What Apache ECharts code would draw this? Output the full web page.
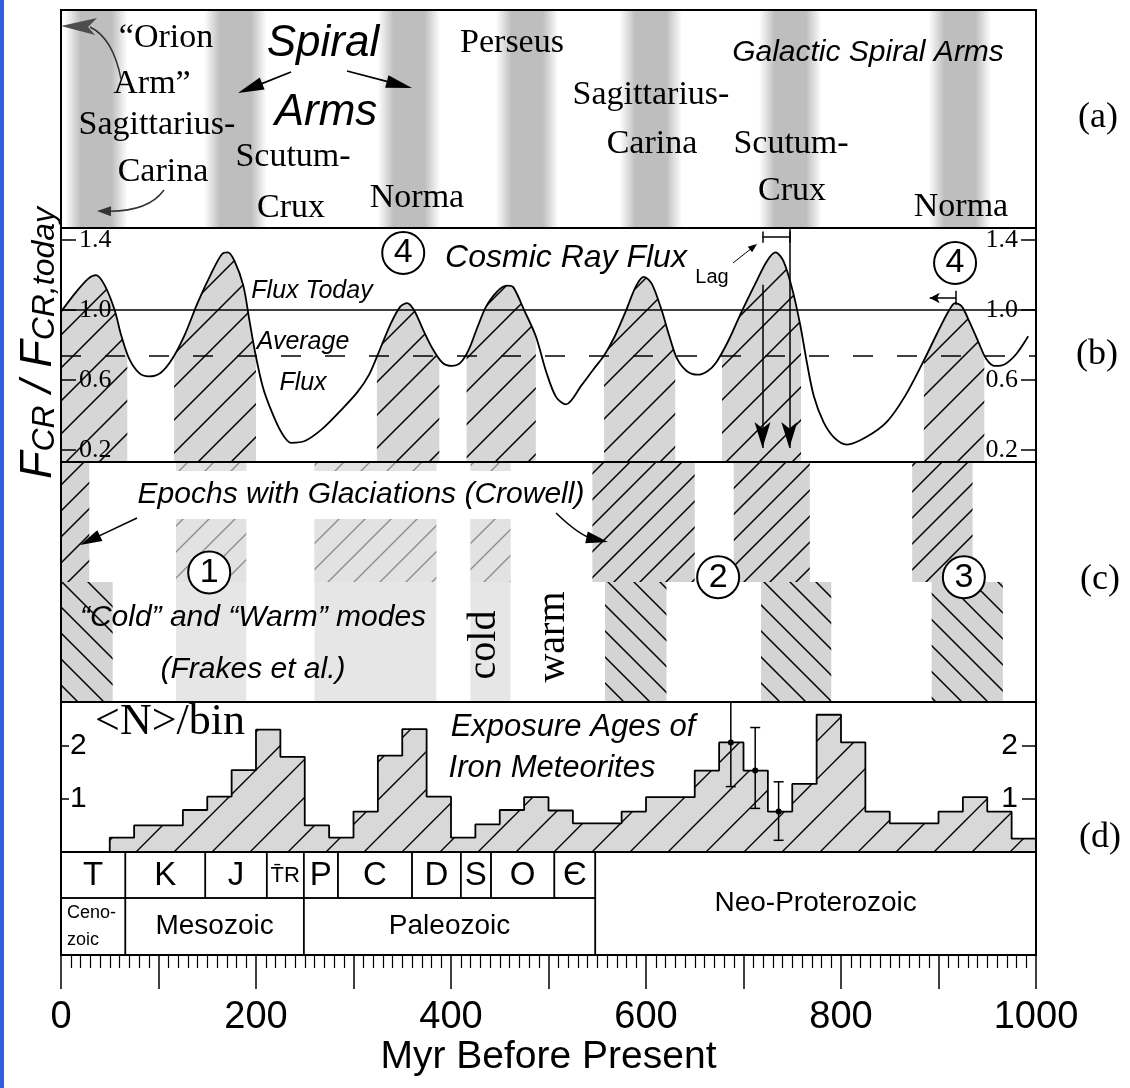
<!DOCTYPE html>
<html>
<head>
<meta charset="utf-8">
<script src="https://cdn.jsdelivr.net/npm/echarts@6/dist/echarts.min.js"></script>
<style>html,body{margin:0;padding:0;background:#fff;}#chart{width:1130px;height:1088px;}</style>
</head>
<body>
<div id="chart"></div>
<script>
// ===================== DATA =====================
// (a) spiral arm crossings (Myr before present)
const spiralArmCenters = [36, 179, 357, 478, 605, 748, 922];
const spiralArmWidth = 64;

// (b) cosmic ray flux relative to today
const fluxAge = [0,15,28,36,45,55,62,70,80,90,102,114,127,140,155,165,171,178,187,193,199,207,216,226,236,250,268,286,304,316,326,338,348,355,362,372,381,391,401,410,418,427,436,448,458,464,475,487,498,508,518,534,546,557,568,579,590,598,606,616,624,632,642,653,663,672,685,698,712,724,733,741,750,758,765,772,782,793,806,825,847,866,884,898,910,917,924,932,940,949,958,968,980,992];
const fluxValue = [0.99,1.10,1.18,1.20,1.14,1.00,0.85,0.72,0.64,0.62,0.64,0.72,0.86,1.04,1.22,1.32,1.33,1.28,1.14,0.95,0.76,0.56,0.42,0.30,0.24,0.25,0.32,0.42,0.53,0.63,0.76,0.92,1.02,1.04,1.00,0.88,0.78,0.70,0.68,0.70,0.77,0.90,1.02,1.11,1.14,1.13,1.00,0.85,0.64,0.50,0.46,0.57,0.66,0.74,0.85,0.99,1.14,1.19,1.15,1.00,0.85,0.72,0.65,0.63,0.65,0.70,0.83,0.99,1.15,1.28,1.33,1.28,1.12,0.92,0.70,0.51,0.36,0.27,0.23,0.27,0.36,0.51,0.70,0.86,0.99,1.04,1.02,0.93,0.83,0.72,0.68,0.69,0.75,0.85];
const fluxToday = 1.0;
const fluxAverage = 0.74;
const fluxTicks = [0.2, 0.6, 1.0, 1.4];
const highFluxRanges = [[0,68],[116,200],[324,388],[416,487],[557,630],[678,759],[885,947]];
const lagStart = 719.5, lagEnd = 747;

// (c) glaciation epochs (Crowell) and cold modes (Frakes et al.)
const glaciationEpochs = [[0,29],[545,650],[690,768],[873,935]];
const glaciationEpochsFaint = [[118,190],[260,385],[420,461]];
const coldModes = [[0,53],[558,621],[718,790],[893,966]];

// (d) iron meteorite exposure ages histogram
const histBinStart = [0,25,50,75,100,125,150,175,200,225,250,275,300,325,350,375,400,425,450,475,500,525,550,575,600,625,650,675,700,725,750,775,800,825,850,875,900,925,950,975];
const histValue = [0,0,0.27,0.50,0.50,0.79,1.04,1.54,2.30,1.79,0.50,0.27,0.76,1.81,2.31,1.04,0.27,0.52,0.79,1.03,0.78,0.54,0.54,0.76,1.03,1.03,1.53,2.06,1.53,0.76,1.28,2.58,2.06,0.76,0.54,0.54,0.76,1.03,0.76,0.25];
const histEnd = 1000;
const countTicks = [1, 2];
const errAge = [687, 712, 736];
const errMid = [2.06, 1.53, 0.76];
const errLow = [1.23, 0.82, 0.22];
const errHigh = [2.82, 2.34, 1.32];

// geological time scale
const periodNames = ['T','K','J','T\u0304R','P','C','D','S','O','\u0404'];
const periodStart = [0,66,148,211,249,284,360,410,441,506];
const periodEnd   = [66,148,211,249,284,360,410,441,506,548];
const eraNames = ['Ceno-\nzoic','Mesozoic','Paleozoic','Neo-Proterozoic'];
const eraStart = [0,66,249,548];
const eraEnd   = [66,249,548,1000];
const xLabelValues = [0,200,400,600,800,1000];

// ===================== LAYOUT / STYLE =====================
const SANS = '"Liberation Sans", Arial, sans-serif';
const NARROW = SANS;
const SERIF = '"Liberation Serif", "Times New Roman", serif';
const bMin = 0.13, bMax = 1.47;
const dMax = 2.82;
const eraSplit = 57 / 103;

function hatch(size, dir, bg, lineColor, lw) {
  const c = document.createElement('canvas');
  c.width = size; c.height = size;
  const ctx = c.getContext('2d');
  ctx.fillStyle = bg; ctx.fillRect(0, 0, size, size);
  ctx.strokeStyle = lineColor; ctx.lineWidth = lw;
  ctx.beginPath();
  if (dir === '/') {
    ctx.moveTo(-size/2, size/2); ctx.lineTo(size/2, -size/2);
    ctx.moveTo(0, size); ctx.lineTo(size, 0);
    ctx.moveTo(size/2, size*1.5); ctx.lineTo(size*1.5, size/2);
  } else {
    ctx.moveTo(0, 0); ctx.lineTo(size, size);
    ctx.moveTo(-size/2, size/2); ctx.lineTo(size/2, size*1.5);
    ctx.moveTo(size/2, -size/2); ctx.lineTo(size*1.5, size/2);
  }
  ctx.stroke();
  return { image: c, repeat: 'repeat' };
}
const patB = hatch(33, '/', '#d6d6d6', '#000', 1.5);
const patC = hatch(26, '/', '#d4d4d4', '#000', 1.5);
const patCfaint = hatch(26, '/', '#e2e2e2', '#8a8a8a', 1.3);
const patCback = hatch(26, '\\', '#d4d4d4', '#000', 1.5);
const patD = hatch(38, '/', '#d8d8d8', '#000', 1.4);

const fluxData = fluxAge.map((a, i) => [a, fluxValue[i]]);
const fluxGaps = [];
(function(){ let prev = 0; highFluxRanges.forEach(r => { if (r[0] > prev) fluxGaps.push([prev, r[0]]); prev = r[1]; }); if (prev < 1000) fluxGaps.push([prev, 1000]); })();
const histData = histBinStart.map((s, i) => [s, histValue[i]]).concat([[histEnd, histValue[histValue.length - 1]]]);
const errData = errAge.map((a, i) => [a, errMid[i], errLow[i], errHigh[i]]);
const periodData = periodStart.map((s, i) => [s, periodEnd[i]]);
const eraData = eraStart.map((s, i) => [s, eraEnd[i]]);

function rangeRender(y0, y1, fill) {
  return function(params, api) {
    const p0 = api.coord([api.value(0), y1]);
    const p1 = api.coord([api.value(1), y0]);
    return { type: 'rect', shape: { x: p0[0], y: p0[1], width: p1[0] - p0[0], height: p1[1] - p0[1] }, style: { fill: fill } };
  };
}
function bandRender(params, api) {
  const c = api.value(0);
  const p0 = api.coord([c - spiralArmWidth / 2, 1]);
  const p1 = api.coord([c + spiralArmWidth / 2, 0]);
  return { type: 'rect', shape: { x: p0[0], y: p0[1], width: p1[0] - p0[0], height: p1[1] - p0[1] },
    style: { fill: { type: 'linear', x: 0, y: 0, x2: 1, y2: 0, colorStops: [
      { offset: 0, color: 'rgba(165,165,165,0)' }, { offset: 0.25, color: 'rgba(165,165,165,0.72)' },
      { offset: 0.75, color: 'rgba(165,165,165,0.72)' }, { offset: 1, color: 'rgba(165,165,165,0)' } ] } } };
}
function errRender(params, api) {
  const x = api.value(0), mid = api.value(1), lo = api.value(2), hi = api.value(3);
  const top = Math.min(hi, dMax);
  const pm = api.coord([x, mid]), pl = api.coord([x, lo]), ph = api.coord([x, top]);
  const st = { stroke: '#000', lineWidth: 1.5 };
  const ch = [
    { type: 'line', shape: { x1: pl[0], y1: pl[1], x2: ph[0], y2: ph[1] }, style: st },
    { type: 'line', shape: { x1: pl[0] - 5, y1: pl[1], x2: pl[0] + 5, y2: pl[1] }, style: st },
    { type: 'circle', shape: { cx: pm[0], cy: pm[1], r: 3 }, style: { fill: '#000' } }
  ];
  if (hi < dMax) ch.push({ type: 'line', shape: { x1: ph[0] - 5, y1: ph[1], x2: ph[0] + 5, y2: ph[1] }, style: st });
  return { type: 'group', children: ch };
}
function periodRender(params, api) {
  const i = params.dataIndex;
  const p0 = api.coord([api.value(0), 1]);
  const p1 = api.coord([api.value(1), eraSplit]);
  const name = periodNames[i];
  return { type: 'group', children: [
    { type: 'rect', shape: { x: p0[0], y: p0[1], width: p1[0] - p0[0], height: p1[1] - p0[1] }, style: { fill: 'rgba(0,0,0,0)', stroke: '#000', lineWidth: 1.5 } },
    { type: 'text', x: (p0[0] + p1[0]) / 2, y: (p0[1] + p1[1]) / 2 + 1, style: { text: name, fontFamily: NARROW, fontSize: name.length > 1 ? 22 : 33, fill: '#000', align: 'center', verticalAlign: 'middle' } }
  ] };
}
function eraRender(params, api) {
  const i = params.dataIndex;
  const s = api.value(0), e = api.value(1);
  const top = s >= periodEnd[periodEnd.length - 1] ? 1 : eraSplit;
  const p0 = api.coord([s, top]);
  const p1 = api.coord([e, 0]);
  const name = eraNames[i];
  const multi = name.indexOf('\n') >= 0;
  return { type: 'group', children: [
    { type: 'rect', shape: { x: p0[0], y: p0[1], width: p1[0] - p0[0], height: p1[1] - p0[1] }, style: { fill: 'rgba(0,0,0,0)', stroke: '#000', lineWidth: 1.5 } },
    { type: 'text', x: multi ? p0[0] + 6 : (p0[0] + p1[0]) / 2, y: (p0[1] + p1[1]) / 2, style: { text: name, fontFamily: NARROW, fontSize: multi ? 18 : 28, lineHeight: multi ? 27 : 34, fill: '#000', align: multi ? 'left' : 'center', verticalAlign: 'middle' } }
  ] };
}

// annotation helpers (pixel space)
function arrowHead(x, y, ang, len, wid, color) {
  const bx = x - len * Math.cos(ang), by = y - len * Math.sin(ang);
  const nx = -Math.sin(ang) * wid / 2, ny = Math.cos(ang) * wid / 2;
  return { type: 'polygon', z: 100, silent: true, shape: { points: [[x, y], [bx + nx, by + ny], [bx - nx, by - ny]] }, style: { fill: color } };
}
function straightArrow(x1, y1, x2, y2, len, wid, color, lw) {
  const a = Math.atan2(y2 - y1, x2 - x1);
  return [{ type: 'line', z: 100, silent: true, shape: { x1: x1, y1: y1, x2: x2 - Math.cos(a) * len * 0.7, y2: y2 - Math.sin(a) * len * 0.7 }, style: { stroke: color, lineWidth: lw } }, arrowHead(x2, y2, a, len, wid, color)];
}
function curveArrow(x1, y1, cx, cy, x2, y2, len, wid, color, lw) {
  const a = Math.atan2(y2 - cy, x2 - cx);
  return [{ type: 'bezierCurve', z: 100, silent: true, shape: { x1: x1, y1: y1, x2: x2 - Math.cos(a) * len * 0.7, y2: y2 - Math.sin(a) * len * 0.7, cpx1: cx, cpy1: cy }, style: { stroke: color, lineWidth: lw, fill: null } }, arrowHead(x2, y2, a, len, wid, color)];
}
function txt(text, x, y, family, size, extra, el) {
  return Object.assign({ type: 'text', x: x, y: y, z: 100, silent: true,
    style: Object.assign({ text: text, fontFamily: family, fontSize: size, fill: '#000', align: 'center', verticalAlign: 'middle' }, extra || {}) }, el || {});
}
const IT = { fontStyle: 'italic' };

const graphics = [
  { type: 'rect', z: 100, silent: true, shape: { x: 0, y: 0, width: 4, height: 1088 }, style: { fill: '#2f5fe0' } },
  // panel a
  txt('\u201COrion', 166, 38, SERIF, 34), txt('Arm\u201D', 152, 84, SERIF, 34),
  txt('Sagittarius-', 157, 125, SERIF, 34), txt('Carina', 163, 172, SERIF, 34),
  txt('Scutum-', 293, 157, SERIF, 34), txt('Crux', 291, 208, SERIF, 34),
  txt('Norma', 417, 198, SERIF, 34), txt('Perseus', 512, 43, SERIF, 34),
  txt('Sagittarius-', 651, 95, SERIF, 34), txt('Carina', 652, 144, SERIF, 34),
  txt('Scutum-', 791, 144, SERIF, 34), txt('Crux', 792, 191, SERIF, 34),
  txt('Norma', 961, 207, SERIF, 34),
  txt('Spiral', 323, 44, NARROW, 44, IT), txt('Arms', 326, 113, NARROW, 44, IT),
  txt('Galactic Spiral Arms', 868, 53, NARROW, 30, IT),
  txt('(a)', 1098, 118, SERIF, 36), txt('(b)', 1097, 355, SERIF, 36),
  txt('(c)', 1100, 580, SERIF, 36), txt('(d)', 1100, 838, SERIF, 36),
  { type: 'polygon', z: 100, silent: true, shape: { points: [[61, 26], [97, 18], [88, 27], [95, 35]] }, style: { fill: '#4d4d4d' } },
  { type: 'bezierCurve', z: 100, silent: true, shape: { x1: 90, y1: 27, cpx1: 113, cpy1: 38, x2: 121, y2: 79 }, style: { stroke: '#333', lineWidth: 1.5, fill: null } },
  ...curveArrow(164, 190, 148, 212, 97, 211, 14, 10, '#333', 1.5),
  ...straightArrow(291, 72, 238, 93, 26, 13, '#000', 1.8),
  ...straightArrow(347, 71, 412, 88, 26, 13, '#000', 1.8),
  // panel b
  txt('Cosmic Ray Flux', 566, 258, NARROW, 32, IT),
  txt('Flux Today', 312, 291, NARROW, 25, IT),
  txt('Average', 303, 342, NARROW, 25, IT), txt('Flux', 303, 383, NARROW, 25, IT),
  txt('Lag', 712, 277, SANS, 20),
  ...straightArrow(733, 263, 757, 244, 9, 7, '#000', 1),
  { type: 'text', x: 34, y: 343, z: 100, silent: true, rotation: Math.PI / 2,
    style: { text: '{a|F}{b|CR}{a| / F}{b|CR,today}', align: 'center', verticalAlign: 'middle',
      rich: { a: { fontFamily: NARROW, fontStyle: 'italic', fontSize: 45, lineHeight: 54, verticalAlign: 'bottom', fill: '#000' },
              b: { fontFamily: NARROW, fontStyle: 'italic', fontSize: 32, lineHeight: 27, verticalAlign: 'bottom', fill: '#000' } } } },
  // panel c
  txt('Epochs with Glaciations (Crowell)', 361, 495, NARROW, 30, { fontStyle: 'italic', backgroundColor: '#fff', padding: [12, 4, 6, 4] }),
  txt('\u201CCold\u201D and \u201CWarm\u201D modes', 253, 618, NARROW, 30, IT),
  txt('(Frakes et al.)', 253, 670, NARROW, 30, IT),
  txt('cold', 484, 645, SERIF, 40, null, { rotation: Math.PI / 2 }),
  txt('warm', 553, 637, SERIF, 40, null, { rotation: Math.PI / 2 }),
  ...straightArrow(137, 518, 80, 545, 22, 12, '#000', 1.5),
  ...curveArrow(556, 513, 580, 536, 608, 542, 22, 12, '#000', 1.5),
  // panel d
  txt('<N>/bin', 170, 722, SERIF, 44),
  txt('Exposure Ages of', 573, 727, NARROW, 31, IT),
  txt('Iron Meteorites', 552, 768, NARROW, 31, IT)
];

// ===================== CHART =====================
const gridBase = { show: true, borderColor: '#000', borderWidth: 2, backgroundColor: 'rgba(0,0,0,0)', z: 10, outerBoundsMode: 'none', containLabel: false };
const grids = [
  { left: 61, width: 975, top: 10, height: 218 },
  { left: 61, width: 975, top: 228, height: 234 },
  { left: 61, width: 975, top: 462, height: 240 },
  { left: 61, width: 975, top: 702, height: 150 },
  { left: 61, width: 975, top: 852, height: 103 }
].map(g => Object.assign({}, gridBase, g));

const hiddenX = i => ({ gridIndex: i, type: 'value', min: 0, max: 1000, show: false });
const xAxes = [hiddenX(0), hiddenX(1), hiddenX(2), hiddenX(3), {
  gridIndex: 4, type: 'value', min: 0, max: 1000, interval: 100, position: 'bottom', z: 10,
  axisLine: { show: true, lineStyle: { color: '#000', width: 2 } },
  axisTick: { show: true, length: 34, lineStyle: { color: '#000', width: 1.5 } },
  minorTick: { show: true, splitNumber: 10, length: 13, lineStyle: { color: '#000', width: 1.2 } },
  axisLabel: { show: true, margin: 44, fontSize: 38, fontFamily: NARROW, color: '#000', customValues: xLabelValues, formatter: v => String(v) },
  splitLine: { show: false }, minorSplitLine: { show: false },
  name: 'Myr Before Present', nameLocation: 'middle', nameGap: 82,
  nameTextStyle: { fontSize: 39, fontFamily: NARROW, color: '#000' }
}];

function valAxis(grid, pos, min, max, ticks, tickLen, margin, font, size, fmt) {
  return { gridIndex: grid, type: 'value', min: min, max: max, position: pos, z: 10,
    axisLine: { show: false }, splitLine: { show: false },
    axisTick: { show: true, inside: true, length: tickLen, customValues: ticks, lineStyle: { color: '#000', width: 1.5 } },
    axisLabel: { show: true, inside: true, margin: margin, customValues: ticks, fontFamily: font, fontSize: size, color: '#000', formatter: fmt } };
}
const yAxes = [
  { gridIndex: 0, type: 'value', min: 0, max: 1, show: false },
  valAxis(1, 'left', bMin, bMax, fluxTicks, 15, 18, SERIF, 26, v => v.toFixed(1)),
  valAxis(1, 'right', bMin, bMax, fluxTicks, 15, 18, SERIF, 26, v => v.toFixed(1)),
  { gridIndex: 2, type: 'value', min: 0, max: 1, show: false },
  valAxis(3, 'left', 0, dMax, countTicks, 8, 9, SANS, 30, v => String(v)),
  valAxis(3, 'right', 0, dMax, countTicks, 14, 18, SANS, 30, v => String(v)),
  { gridIndex: 4, type: 'value', min: 0, max: 1, show: false }
];

const blackLine = { color: '#000', width: 1.5, type: 'solid' };
const option = {
  animation: false,
  backgroundColor: '#fff',
  grid: grids,
  xAxis: xAxes,
  yAxis: yAxes,
  series: [
    { type: 'custom', xAxisIndex: 0, yAxisIndex: 0, data: spiralArmCenters.map(c => [c]), renderItem: bandRender, z: 1, silent: true },
    { type: 'line', xAxisIndex: 1, yAxisIndex: 1, data: fluxData, smooth: 0.3, symbol: 'none', silent: true, z: 1,
      lineStyle: { width: 0, opacity: 0 }, areaStyle: { color: patB, opacity: 1, origin: 'start' } },
    { type: 'custom', xAxisIndex: 1, yAxisIndex: 1, data: fluxGaps, renderItem: rangeRender(bMin, bMax, '#fff'), z: 2, silent: true },
    { type: 'line', xAxisIndex: 1, yAxisIndex: 1, data: fluxData, smooth: 0.3, symbol: 'none', silent: true, z: 5,
      lineStyle: { color: '#000', width: 1.8 },
      markLine: { silent: true, symbol: ['none', 'none'], label: { show: false }, lineStyle: blackLine, animation: false,
        data: [
          { yAxis: fluxToday },
          { yAxis: fluxAverage, lineStyle: { color: '#000', width: 1.5, type: [20, 24] } },
          [{ coord: [lagStart, 1.145] }, { coord: [lagStart, 0.21], symbol: 'arrow', symbolSize: [12, 26] }],
          [{ coord: [lagEnd, bMax] }, { coord: [lagEnd, 0.21], symbol: 'arrow', symbolSize: [12, 26] }],
          [{ coord: [lagStart, 1.418] }, { coord: [lagEnd, 1.418] }],
          [{ coord: [lagStart, 1.385] }, { coord: [lagStart, 1.45] }],
          [{ coord: [lagEnd, 1.385] }, { coord: [lagEnd, 1.45] }],
          [{ coord: [918, 1.069] }, { coord: [891, 1.069], symbol: 'arrow', symbolSize: [8, 10] }],
          [{ coord: [918, 1.03] }, { coord: [918, 1.11] }]
        ] },
      markPoint: { silent: true, symbol: 'circle', symbolSize: 42, itemStyle: { color: '#fff', borderColor: '#000', borderWidth: 2 },
        label: { show: true, position: 'inside', color: '#000', fontSize: 34, fontFamily: SANS, formatter: p => p.name },
        data: [{ name: '4', coord: [351, 1.327] }, { name: '4', coord: [917, 1.27] }] } },
    { type: 'custom', xAxisIndex: 2, yAxisIndex: 3, data: glaciationEpochsFaint, renderItem: rangeRender(0, 1, '#e6e6e6'), z: 1, silent: true },
    { type: 'custom', xAxisIndex: 2, yAxisIndex: 3, data: glaciationEpochsFaint, renderItem: rangeRender(0.5, 1, patCfaint), z: 2, silent: true },
    { type: 'custom', xAxisIndex: 2, yAxisIndex: 3, data: glaciationEpochs, renderItem: rangeRender(0.5, 1, patC), z: 3, silent: true },
    { type: 'custom', xAxisIndex: 2, yAxisIndex: 3, data: coldModes, renderItem: rangeRender(0, 0.5, patCback), z: 3, silent: true },
    { type: 'scatter', xAxisIndex: 2, yAxisIndex: 3, data: [], silent: true, z: 6,
      markPoint: { silent: true, symbol: 'circle', symbolSize: 42, itemStyle: { color: '#fff', borderColor: '#000', borderWidth: 2 },
        label: { show: true, position: 'inside', color: '#000', fontSize: 34, fontFamily: SANS, formatter: p => p.name },
        data: [{ name: '1', coord: [152, 0.54] }, { name: '2', coord: [674, 0.52] }, { name: '3', coord: [926, 0.52] }] } },
    { type: 'line', xAxisIndex: 3, yAxisIndex: 4, data: histData, step: 'end', symbol: 'none', silent: true, z: 2,
      lineStyle: { color: '#000', width: 1.8 }, areaStyle: { color: patD, opacity: 1, origin: 'start' } },
    { type: 'custom', xAxisIndex: 3, yAxisIndex: 4, data: errData, renderItem: errRender, z: 4, silent: true },
    { type: 'custom', xAxisIndex: 4, yAxisIndex: 6, data: periodData, renderItem: periodRender, z: 3, silent: true },
    { type: 'custom', xAxisIndex: 4, yAxisIndex: 6, data: eraData, renderItem: eraRender, z: 3, silent: true }
  ],
  graphic: { elements: graphics }
};

const chart = echarts.init(document.getElementById('chart'), null, { renderer: 'canvas', width: 1130, height: 1088 });
chart.setOption(option);
</script>
</body>
</html>
